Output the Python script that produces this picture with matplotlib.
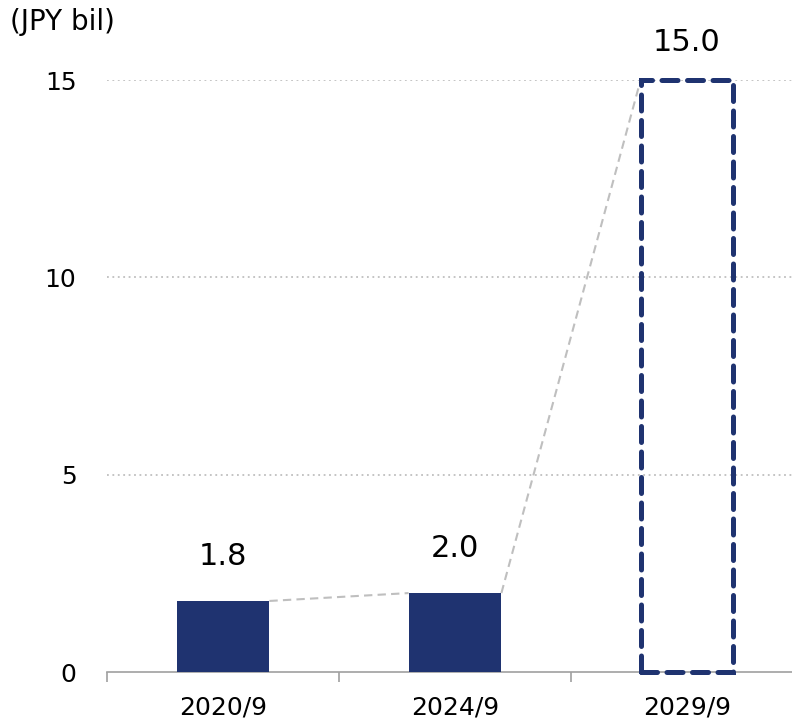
import matplotlib.pyplot as plt

# data
periods = ['2020/9', '2024/9', '2029/9']
actual = [1.8, 2.0]
target = 15.0
yticks = [0, 5, 10, 15]

navy = '#1F3370'
W, H = 792, 725

fig = plt.figure(figsize=(W / 100, H / 100), dpi=100)
ax = fig.add_axes([107 / W, 53 / H, 696 / W, 592 / H])

x = range(len(periods))
bw = 0.4

# actual bars
ax.bar(list(x)[:2], actual, width=bw, color=navy, zorder=3)
# target bar, dashed outline
ax.bar(2, target, width=bw, facecolor='none', edgecolor=navy, linewidth=3.6,
       linestyle=(0, (3.2, 1.9)), capstyle='round', zorder=3, clip_on=False)

# connectors between bar tops
tops = actual + [target]
for i in range(len(tops) - 1):
    ax.plot([i + bw / 2, i + 1 - bw / 2], [tops[i], tops[i + 1]],
            color='#BFBFBF', lw=1.5, ls=(0, (4, 2.5)), zorder=2)

# value labels
for i, v in enumerate(tops):
    off = 27 if i == 2 else 32
    ax.annotate(f'{v:.1f}', (i, v), xytext=(0, off), textcoords='offset points',
                ha='center', va='center', fontsize=22)

ax.set_xlim(-0.5, 2.5)
ax.set_ylim(0, 15)
ax.set_yticks(yticks)
ax.set_xticks(list(x))
ax.set_xticklabels(periods, fontsize=18)
ax.tick_params(axis='x', length=0, pad=17)
ax.tick_params(axis='y', length=0, labelsize=18, pad=22)
ax.set_xticks([-0.5, 0.5, 1.5, 2.5], minor=True)
ax.tick_params(axis='x', which='minor', length=7, color='#A0A0A0', width=1.2)

for s in ['left', 'right', 'top']:
    ax.spines[s].set_visible(False)
ax.spines['bottom'].set_color('#A0A0A0')
ax.spines['bottom'].set_linewidth(1.2)

for y in yticks[1:]:
    ax.axhline(y, color='#BFBFBF', lw=1.3, ls=(0, (1, 2)), zorder=1)

fig.text(10 / W, 1 - 22 / H, '(JPY bil)', fontsize=20, va='center', ha='left')

fig.savefig('out.png', dpi=100)
